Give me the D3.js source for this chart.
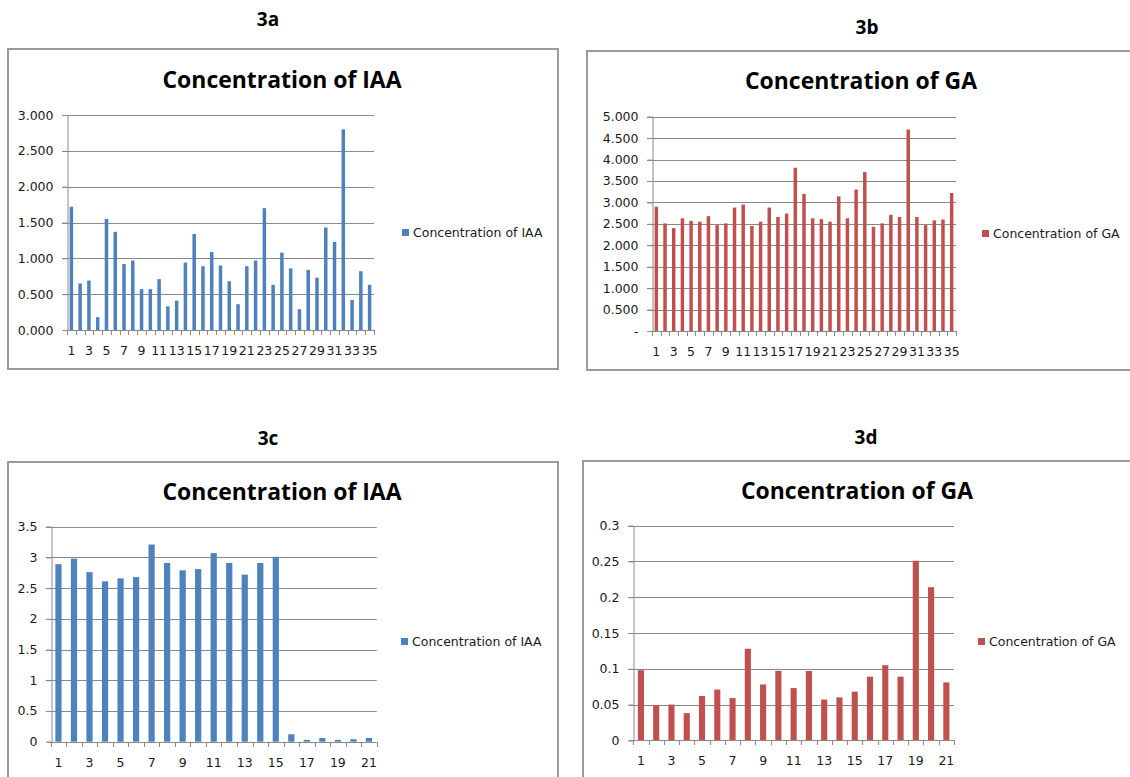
<!DOCTYPE html>
<html>
<head>
<meta charset="utf-8">
<script src="https://cdn.jsdelivr.net/npm/d3@7"></script>
<style>
  body { margin: 0; background: #fff; }
  .tick-label { font-family: "DejaVu Sans", Verdana, sans-serif; font-size: 12.5px; fill: #1a1a1a; }
  .legend-label { font-family: "DejaVu Sans", Verdana, sans-serif; font-size: 12.5px; fill: #1a1a1a; }
  .panel-title { font-family: "Liberation Sans Narrow", "Open Sans", sans-serif; font-weight: bold; font-size: 23px; fill: #000; }
  .panel-letter { font-family: "Liberation Sans Narrow", "Open Sans", sans-serif; font-weight: bold; font-size: 19px; fill: #000; }
</style>
</head>
<body>
<div id="chart"></div>
<script>
// Figure 3: IAA / GA concentrations
const catsA = ["1","2","3","4","5","6","7","8","9","10","11","12","13","14","15","16","17","18",
  "19","20","21","22","23","24","25","26","27","28","29","30","31","32","33","34","35"];
const iaaA = [1.72,0.65,0.69,0.18,1.55,1.37,0.92,0.97,0.57,0.57,0.71,0.33,0.41,0.94,1.34,0.89,1.09,0.90,
  0.68,0.36,0.89,0.97,1.70,0.63,1.08,0.86,0.29,0.84,0.73,1.43,1.23,2.80,0.42,0.82,0.63];
const gaB = [2.90,2.51,2.40,2.63,2.57,2.55,2.68,2.47,2.51,2.88,2.95,2.45,2.55,2.88,2.66,2.74,3.81,3.20,
  2.63,2.61,2.55,3.14,2.63,3.30,3.71,2.43,2.51,2.71,2.66,4.70,2.66,2.47,2.58,2.60,3.22];
const catsC = ["1","2","3","4","5","6","7","8","9","10","11","12","13","14","15","16","17","18","19","20","21"];
const iaaC = [2.89,2.98,2.76,2.61,2.66,2.68,3.21,2.91,2.79,2.81,3.07,2.91,2.72,2.91,3.01,0.12,0.03,0.06,0.03,0.04,0.06];
const gaD = [0.098,0.049,0.050,0.038,0.062,0.071,0.059,0.128,0.078,0.097,0.073,0.097,0.057,0.060,0.068,
  0.089,0.105,0.089,0.251,0.214,0.081];

const ticksA = [0,0.5,1,1.5,2,2.5,3];
const ticksB = [0,0.5,1,1.5,2,2.5,3,3.5,4,4.5,5];
const ticksC = [0,0.5,1,1.5,2,2.5,3,3.5];
const ticksD = [0,0.05,0.1,0.15,0.2,0.25,0.3];

const seriesIAA = "Concentration of IAA";
const seriesGA = "Concentration of GA";

const blue = "#4f81bd";
const red = "#c0504d";
const grid = "#8a8a8a";

const fmt3 = d3.format(".3f");

const panels = [
  { letter: "3a", title: seriesIAA, cats: catsA, values: iaaA, ticks: ticksA, color: blue,
    fmt: v => fmt3(v),
    frame: [8, 49, 550, 320], letterPos: [268, 26], titlePos: [282, 88], titleLen: 239,
    plot: [67, 374, 115, 330], legend: [402, 229] },
  { letter: "3b", title: seriesGA, cats: catsA, values: gaB, ticks: ticksB, color: red,
    fmt: v => v === 0 ? "-" : fmt3(v),
    frame: [587, 51, 560, 319], letterPos: [867, 34], titlePos: [861, 89], titleLen: 232,
    plot: [652, 956, 116.7, 331], legend: [982, 230] },
  { letter: "3c", title: seriesIAA, cats: catsC, values: iaaC, ticks: ticksC, color: blue,
    fmt: v => String(v),
    frame: [8, 462, 550, 400], letterPos: [268, 445], titlePos: [282, 500], titleLen: 239,
    plot: [50.7, 376.7, 526.7, 741.7], legend: [401, 638] },
  { letter: "3d", title: seriesGA, cats: catsC, values: gaD, ticks: ticksD, color: red,
    fmt: v => String(v),
    frame: [583, 461, 560, 400], letterPos: [866, 444], titlePos: [857, 499], titleLen: 232,
    plot: [633.3, 954, 525.7, 740.3], legend: [978, 638] }
];

const svg = d3.select("#chart").append("svg")
  .attr("width", 1130)
  .attr("height", 777);

panels.forEach(p => drawPanel(p));

function drawPanel(p) {
  const g = svg.append("g");
  const [fx, fy, fw, fh] = p.frame;
  const [x0, x1, yTop, yBot] = p.plot;

  g.append("text")
    .attr("class", "panel-letter")
    .attr("x", p.letterPos[0])
    .attr("y", p.letterPos[1])
    .attr("text-anchor", "middle")
    .text(p.letter);

  g.append("rect")
    .attr("x", fx).attr("y", fy)
    .attr("width", fw).attr("height", fh)
    .attr("fill", "#fff")
    .attr("stroke", "#9a9a9a")
    .attr("stroke-width", 2);

  g.append("text")
    .attr("class", "panel-title")
    .attr("x", p.titlePos[0])
    .attr("y", p.titlePos[1])
    .attr("text-anchor", "middle")
    .attr("textLength", p.titleLen)
    .attr("lengthAdjust", "spacingAndGlyphs")
    .text(p.title);

  const x = d3.scaleBand()
    .domain(p.cats)
    .range([x0, x1])
    .padding(0);

  const y = d3.scaleLinear()
    .domain([p.ticks[0], p.ticks[p.ticks.length - 1]])
    .range([yBot, yTop]);

  // gridlines
  g.append("g")
    .selectAll("line")
    .data(p.ticks.slice(1))
    .enter().append("line")
    .attr("x1", x0 - 5).attr("x2", x1)
    .attr("y1", d => Math.round(y(d)) + 0.5)
    .attr("y2", d => Math.round(y(d)) + 0.5)
    .attr("stroke", grid)
    .attr("stroke-width", 1);

  // y axis
  const yAxis = g.append("g")
    .attr("transform", `translate(${Math.round(x0) + 0.5},0)`)
    .call(d3.axisLeft(y)
      .tickValues(p.ticks)
      .tickSize(5)
      .tickPadding(9)
      .tickFormat(p.fmt));
  yAxis.select(".domain").attr("stroke", grid);
  yAxis.selectAll(".tick line").attr("stroke", grid);
  yAxis.selectAll(".tick text").attr("class", "tick-label").attr("fill", null);
  yAxis.attr("font-family", null).attr("font-size", null);

  // bars
  const barW = x.step() / 2.5;
  g.append("g")
    .selectAll("rect")
    .data(p.values)
    .enter().append("rect")
    .attr("x", (d, i) => x(p.cats[i]) + (x.step() - barW) / 2)
    .attr("y", d => y(d))
    .attr("width", barW)
    .attr("height", d => y(0) - y(d))
    .attr("fill", p.color);

  // x axis line with ticks between categories
  const bx = g.append("g");
  bx.append("line")
    .attr("x1", x0).attr("x2", x1)
    .attr("y1", Math.round(yBot) + 0.5).attr("y2", Math.round(yBot) + 0.5)
    .attr("stroke", grid);
  bx.selectAll(".xt")
    .data(p.cats.concat(["end"]))
    .enter().append("line")
    .attr("class", "xt")
    .attr("x1", (d, i) => Math.round(x0 + i * x.step()) + 0.5)
    .attr("x2", (d, i) => Math.round(x0 + i * x.step()) + 0.5)
    .attr("y1", Math.round(yBot))
    .attr("y2", Math.round(yBot) + 5)
    .attr("stroke", grid);
  bx.selectAll(".xl")
    .data(p.cats.filter((d, i) => i % 2 === 0))
    .enter().append("text")
    .attr("class", "tick-label")
    .attr("x", d => x(d) + x.step() / 2)
    .attr("y", yBot + 25)
    .attr("text-anchor", "middle")
    .text(d => d);

  // legend
  const lg = g.append("g")
    .attr("transform", `translate(${p.legend[0]},${p.legend[1]})`);
  lg.append("rect")
    .attr("width", 7).attr("height", 7)
    .attr("fill", p.color);
  lg.append("text")
    .attr("class", "legend-label")
    .attr("x", 11)
    .attr("y", 8)
    .text(p.title);
}
</script>
</body>
</html>
